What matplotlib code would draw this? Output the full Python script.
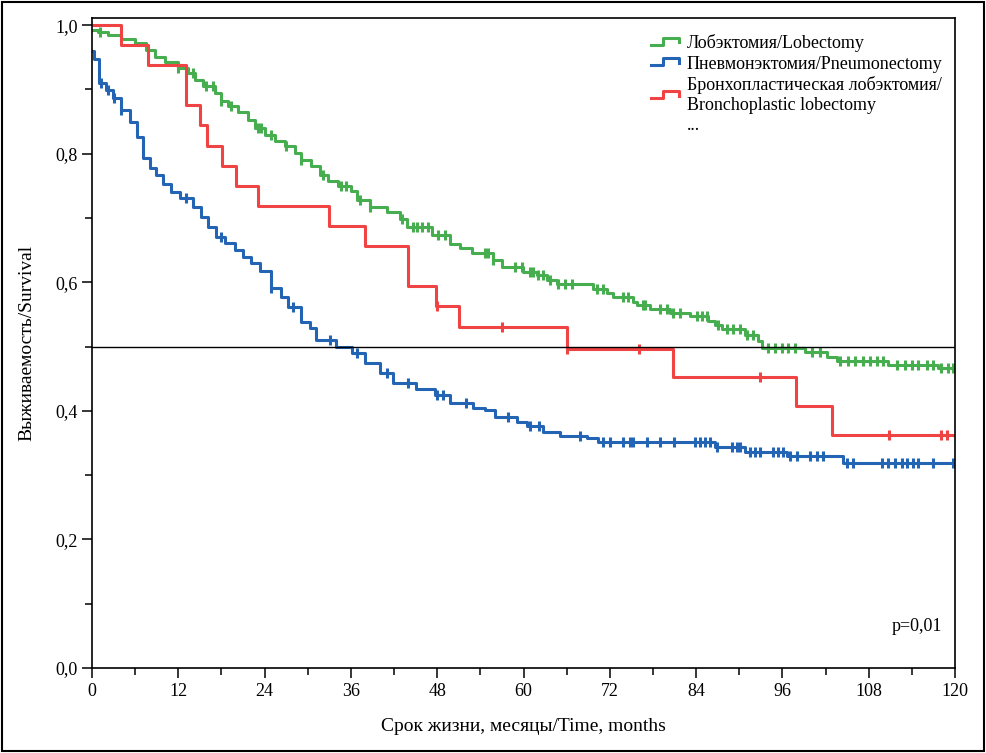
"""
Kaplan-Meier survival curves: lobectomy vs pneumonectomy vs
bronchoplastic lobectomy.
"""
import numpy as np
import matplotlib
matplotlib.use('Agg')
import matplotlib.pyplot as plt
from matplotlib.lines import Line2D
from matplotlib.legend_handler import HandlerBase
from matplotlib.patches import Rectangle
from matplotlib.ticker import MultipleLocator, FuncFormatter

plt.rcParams['font.family'] = ['Liberation Serif', 'DejaVu Serif']

# Lobectomy: step times (months) and survival after each step
lob_t = [0, 0.8, 2.2, 4.0, 6.0, 7.5, 8.8, 10.2, 12.0, 13.3, 14.3, 15.4,
         17.1, 17.9, 18.9, 20.3, 21.7, 22.7, 24.1, 25.4, 26.8, 28.2, 29.1,
         30.5, 31.7, 32.8, 34.2, 36.0, 36.8, 38.7, 41.0, 42.8, 43.8, 47.3,
         49.8, 51.2, 52.8, 55.8, 57.0, 59.9, 61.9, 63.3, 64.7, 69.7, 71.6,
         72.4, 75.2, 75.8, 77.6, 80.4, 83.2, 85.6, 86.6, 87.6, 90.8, 92.6,
         93.2, 99.1, 102.2, 103.6, 110.7, 117.6]
lob_s = [0.993, 0.990, 0.985, 0.979, 0.972, 0.962, 0.950, 0.943, 0.933,
         0.925, 0.915, 0.905, 0.894, 0.882, 0.874, 0.865, 0.853, 0.840,
         0.829, 0.819, 0.812, 0.801, 0.790, 0.781, 0.767, 0.757, 0.750,
         0.742, 0.728, 0.717, 0.710, 0.699, 0.686, 0.673, 0.660, 0.653,
         0.645, 0.635, 0.623, 0.616, 0.611, 0.603, 0.597, 0.590, 0.583,
         0.577, 0.570, 0.564, 0.559, 0.552, 0.547, 0.539, 0.533, 0.528,
         0.518, 0.508, 0.497, 0.492, 0.484, 0.478, 0.471, 0.466]
lob_cens = [1.1, 12.0, 14.0, 15.9, 16.8, 17.9, 19.3, 23.1, 23.5, 24.9, 27.0,
            29.1, 32.1, 34.6, 35.3, 37.3, 38.7, 43.1, 44.6, 45.2, 45.9, 46.7,
            48.1, 49.1, 54.6, 55.1, 55.8, 58.8, 59.8, 60.9, 61.3, 62.0, 62.7,
            63.7, 64.8, 65.8, 66.7, 70.2, 71.1, 73.8, 74.5, 76.6, 76.9, 79.0,
            79.9, 80.8, 81.7, 84.1, 84.8, 85.5, 87.0, 88.3, 89.1, 90.1, 91.1,
            91.9, 94.0, 95.0, 95.9, 96.8, 97.7, 100.1, 101.2, 104.0, 105.1,
            106.1, 107.2, 108.2, 109.1, 110.0, 111.9, 113.0, 114.0, 114.9,
            116.1, 116.9, 118.1, 119.0, 119.7]

# Pneumonectomy
pne_t = [0, 0.3, 1.0, 1.9, 2.9, 4.0, 5.3, 6.3, 7.1, 8.1, 8.9, 9.9, 11.0,
         12.2, 14.0, 15.2, 16.1, 17.2, 18.5, 19.9, 21.0, 22.1, 23.4, 24.9,
         26.3, 27.3, 29.1, 30.3, 31.1, 33.9, 36.2, 38.0, 40.0, 41.9, 45.0,
         47.7, 49.8, 53.0, 54.6, 56.0, 59.1, 60.5, 62.7, 65.1, 68.8, 70.4,
         86.6, 90.8, 96.6, 104.4]
pne_s = [0.960, 0.948, 0.910, 0.899, 0.886, 0.868, 0.849, 0.826, 0.793,
         0.778, 0.767, 0.753, 0.740, 0.731, 0.717, 0.701, 0.686, 0.670,
         0.661, 0.650, 0.639, 0.630, 0.618, 0.591, 0.577, 0.561, 0.538,
         0.529, 0.510, 0.500, 0.490, 0.474, 0.459, 0.443, 0.434, 0.425,
         0.412, 0.404, 0.401, 0.390, 0.383, 0.376, 0.367, 0.361, 0.357,
         0.351, 0.344, 0.336, 0.329, 0.319]
pne_cens = [1.2, 2.2, 3.0, 4.1, 13.1, 17.9, 24.9, 28.0, 33.1, 36.9, 41.0,
            43.9, 48.0, 48.8, 52.0, 57.8, 60.9, 62.1, 67.8, 71.0, 72.0, 73.8,
            74.8, 75.2, 77.2, 79.0, 80.9, 83.8, 84.5, 85.2, 85.9, 86.9, 89.0,
            89.7, 90.1, 91.5, 92.2, 92.9, 94.7, 95.4, 96.1, 97.0, 98.0, 99.8,
            100.8, 101.6, 105.0, 105.8, 109.8, 110.7, 111.6, 112.6, 113.3,
            114.1, 114.8, 116.9, 119.7]

# Bronchoplastic lobectomy
bro_t = [0, 4.0, 7.8, 13.1, 15.0, 16.0, 18.1, 20.0, 23.1, 33.0, 38.0, 44.0,
         47.8, 51.0, 66.0, 80.8, 97.9, 102.9]
bro_s = [1.0, 0.969, 0.938, 0.875, 0.844, 0.812, 0.781, 0.750, 0.719, 0.688,
         0.656, 0.594, 0.563, 0.531, 0.496, 0.453, 0.408, 0.363]
bro_cens = [48.0, 57.0, 66.0, 76.0, 92.9, 110.8, 118.0, 118.9]

labels = ['Лобэктомия/Lobectomy', 'Пневмонэктомия/Pneumonectomy',
          'Бронхопластическая лобэктомия/\nBronchoplastic lobectomy']
colors = ['#47ae4f', '#2464b4', '#f04343']
t_max = 120


class StepHandler(HandlerBase):
    "Small step-shaped legend key, like the SPSS one."
    def create_artists(self, legend, orig_handle, xdescent, ydescent,
                       width, height, fontsize, trans):
        x0 = -xdescent
        y0 = -ydescent
        xs = np.array([0, 0.35, 0.35, 0.85, 0.85]) * width + x0
        ys = np.array([0.25, 0.25, 0.8, 0.8, 0.45]) * height + y0
        line = Line2D(xs, ys, color=orig_handle.get_color(),
                      lw=orig_handle.get_linewidth(), transform=trans)
        return [line]


fig = plt.figure(figsize=(9.86, 7.53), dpi=100)
ax = fig.add_axes([0.0933, 0.1129, 0.8753, 0.8631])

handles = []
for t, s, cens, col in [(lob_t, lob_s, lob_cens, colors[0]),
                        (pne_t, pne_s, pne_cens, colors[1]),
                        (bro_t, bro_s, bro_cens, colors[2])]:
    t = np.append(t, t_max)
    s = np.append(s, s[-1])
    h, = ax.step(t, s, where='post', color=col, lw=2.2)
    idx = np.searchsorted(t, cens, side='right') - 1
    ax.plot(cens, s[idx], ls='none', marker='|', ms=7, mew=2.2, color=col)
    handles.append(h)

ax.axhline(0.5, color='black', lw=1.0)

ax.set_xlim(0, t_max)
ax.set_ylim(0, 1.011)
ax.xaxis.set_major_locator(MultipleLocator(12))
ax.xaxis.set_minor_locator(MultipleLocator(6))
ax.yaxis.set_major_locator(MultipleLocator(0.2))
ax.yaxis.set_minor_locator(MultipleLocator(0.1))
ax.yaxis.set_major_formatter(FuncFormatter(
    lambda v, pos: ('%.1f' % v).replace('.', ',')))
ax.tick_params(which='major', direction='out', length=7, width=1.1,
               labelsize=13, colors='black')
ax.tick_params(which='minor', direction='out', length=5, width=1.1)
for sp in ax.spines.values():
    sp.set_linewidth(1.2)

ax.set_xlabel('Срок жизни, месяцы/Time, months', fontsize=14, labelpad=13)
ax.set_ylabel('Выживаемость/Survival', fontsize=14, labelpad=14)

ax.text(0.985, 0.05, 'p=0,01', transform=ax.transAxes, ha='right',
        va='bottom', fontsize=13)

dots = Line2D([], [], ls='none')
leg = ax.legend(handles + [dots], labels + ['...'],
                handler_map={h: StepHandler() for h in handles},
                loc='upper right', bbox_to_anchor=(1.0, 0.995),
                frameon=False, fontsize=13, handlelength=1.8,
                handletextpad=0.15, labelspacing=0.2, borderaxespad=0.3)

fig.patches.append(Rectangle((0.002, 0.003), 0.996, 0.994,
                             transform=fig.transFigure, fill=False,
                             edgecolor='black', lw=1.5))

fig.savefig('out.png', dpi=100)
